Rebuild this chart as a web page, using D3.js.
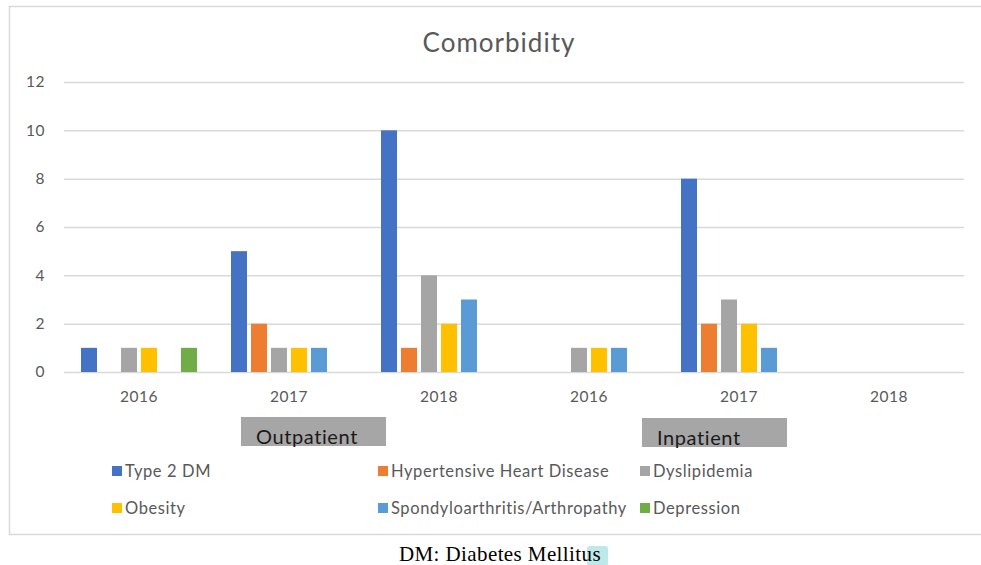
<!DOCTYPE html>
<html lang="en">
<head>
<meta charset="UTF-8">
<title>Comorbidity</title>
<script src="https://d3js.org/d3.v7.min.js"></script>
<style>
  body { margin: 0; background: #fff; overflow: hidden; }
  svg { display: block; }
  text { font-family: Lato, "Open Sans", sans-serif; }
</style>
</head>
<body>
<svg id="chart" width="981" height="565"></svg>
<script>
// categories along the x axis (year within setting)
const years = ["2016", "2017", "2018", "2016", "2017", "2018"];
const settings = ["Outpatient", "Inpatient"];

const seriesNames = [
  "Type 2 DM",
  "Hypertensive Heart Disease",
  "Dyslipidemia",
  "Obesity",
  "Spondyloarthritis/Arthropathy",
  "Depression"
];
const seriesColors = ["#4472C4", "#ED7D31", "#A5A5A5", "#FFC000", "#5B9BD5", "#70AD47"];

// one value per category (outpatient 2016-2018, inpatient 2016-2018)
const type2DM      = [1, 5, 10, 0, 8, 0];
const hypertensive = [0, 2, 1, 0, 2, 0];
const dyslipidemia = [1, 1, 4, 1, 3, 0];
const obesity      = [1, 1, 2, 1, 2, 0];
const spondylo     = [0, 1, 3, 1, 1, 0];
const depression   = [1, 0, 0, 0, 0, 0];
const seriesValues = [type2DM, hypertensive, dyslipidemia, obesity, spondylo, depression];

const yTicks = [0, 2, 4, 6, 8, 10, 12];

const svg = d3.select("#chart");

// outer chart border
svg.append("rect")
  .attr("x", 9.5).attr("y", 6.5)
  .attr("width", 990).attr("height", 528)
  .attr("fill", "#fff")
  .attr("stroke", "#d9d9d9")
  .attr("stroke-width", 1.5);

const plot = { left: 64, right: 964, top: 82, bottom: 372 };

const x0 = d3.scaleBand()
  .domain(d3.range(years.length))
  .range([plot.left, plot.right])
  .paddingInner(0.2)
  .paddingOuter(0.1);

const x1 = d3.scaleBand()
  .domain(d3.range(seriesNames.length))
  .range([0, x0.bandwidth()])
  .paddingInner(0.2)
  .paddingOuter(0.1);

const y = d3.scaleLinear().domain([0, 12]).range([plot.bottom, plot.top]);

// gridlines + y labels
const yAxis = d3.axisLeft(y)
  .tickValues(yTicks)
  .tickSize(-(plot.right - plot.left))
  .tickPadding(19);

const gy = svg.append("g")
  .attr("transform", `translate(${plot.left},0)`)
  .call(yAxis);
gy.select(".domain").remove();
gy.selectAll(".tick line").attr("stroke", "#d9d9d9").attr("stroke-width", 1.5);
gy.selectAll(".tick text")
  .attr("fill", "#595959")
  .style("font-size", "15.5px")
  .style("letter-spacing", "0.5px");

// x labels
const xAxis = d3.axisBottom(x0)
  .tickFormat(i => years[i])
  .tickSize(0)
  .tickPadding(19);
const gx = svg.append("g")
  .attr("transform", `translate(0,${plot.bottom})`)
  .call(xAxis);
gx.select(".domain").remove();
gx.selectAll(".tick text")
  .attr("fill", "#595959")
  .style("font-size", "15.5px")
  .style("letter-spacing", "0.5px");

// bars
const groups = svg.append("g")
  .selectAll("g")
  .data(years.map((yr, i) => i))
  .join("g")
  .attr("transform", i => `translate(${x0(i)},0)`);

groups.selectAll("rect")
  .data(i => seriesValues.map((vals, s) => ({ s, v: vals[i] })))
  .join("rect")
  .attr("x", d => x1(d.s))
  .attr("width", x1.bandwidth())
  .attr("y", d => y(d.v))
  .attr("height", d => y(0) - y(d.v))
  .attr("fill", d => seriesColors[d.s]);

// title
svg.append("text")
  .attr("x", 499).attr("y", 52)
  .attr("text-anchor", "middle")
  .attr("fill", "#595959")
  .style("font-size", "26px")
  .style("letter-spacing", "1px")
  .text("Comorbidity");

// setting boxes under the year labels
const settingBoxes = [
  { x: x0(1) + 12, y: 417, text: settings[0] },
  { x: x0(4) - 37, y: 418, text: settings[1] }
];
const sb = svg.append("g").selectAll("g").data(settingBoxes).join("g");
sb.append("rect")
  .attr("x", d => d.x).attr("y", d => d.y)
  .attr("width", 145).attr("height", 29)
  .attr("fill", "#a6a6a6");
sb.append("text")
  .attr("x", d => d.x + 15).attr("y", d => d.y + 27)
  .attr("fill", "#1a1a1a")
  .style("font-size", "20px")
  .style("letter-spacing", "0.6px")
  .text(d => d.text);

// legend
const legendX = [112, 378, 640];
const legendY = [471, 508];
const legend = svg.append("g").selectAll("g")
  .data(seriesNames)
  .join("g")
  .attr("transform", (d, i) => `translate(${legendX[i % 3]},${legendY[Math.floor(i / 3)]})`);
legend.append("rect")
  .attr("x", 0).attr("y", -5)
  .attr("width", 10).attr("height", 10)
  .attr("fill", (d, i) => seriesColors[i]);
legend.append("text")
  .attr("x", 13).attr("y", 0)
  .attr("dy", "0.35em")
  .attr("fill", "#595959")
  .style("font-size", "16.5px")
  .style("letter-spacing", "0.6px")
  .text(d => d);

// caption below the chart
svg.append("rect")
  .attr("x", 587).attr("y", 546)
  .attr("width", 21).attr("height", 20)
  .attr("rx", 3)
  .attr("fill", "#bfe8e8");
svg.append("text")
  .attr("x", 500).attr("y", 561)
  .attr("text-anchor", "middle")
  .attr("fill", "#000")
  .style("font-family", "'Liberation Serif', 'DejaVu Serif', serif")
  .style("font-size", "21px")
  .style("letter-spacing", "0.4px")
  .text("DM: Diabetes Mellitus");
</script>
</body>
</html>
